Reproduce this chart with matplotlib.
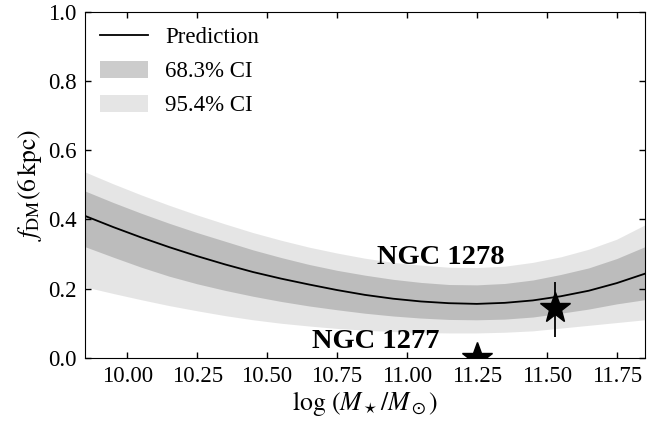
import numpy as np
import matplotlib
matplotlib.use("Agg")
import matplotlib.pyplot as plt

plt.rcParams['font.family'] = ['Liberation Serif', 'DejaVu Serif']
plt.rcParams['mathtext.fontset'] = 'stix'

# predicted dark-matter fraction vs stellar mass, with credible bands
log_mstar = [9.85, 9.95, 10.05, 10.15, 10.25, 10.35, 10.45, 10.55, 10.65, 10.75, 10.85,
             10.95, 11.05, 11.15, 11.25, 11.35, 11.45, 11.55, 11.65, 11.75, 11.85]
f_pred = [0.410, 0.378, 0.348, 0.320, 0.294, 0.270, 0.248, 0.229, 0.212, 0.196, 0.182,
          0.171, 0.163, 0.158, 0.156, 0.159, 0.166, 0.178, 0.194, 0.216, 0.243]
f_hi68 = [0.482, 0.449, 0.418, 0.389, 0.362, 0.337, 0.312, 0.290, 0.270, 0.253, 0.239,
          0.227, 0.218, 0.212, 0.211, 0.215, 0.225, 0.241, 0.260, 0.287, 0.321]
f_lo68 = [0.321, 0.291, 0.262, 0.236, 0.214, 0.195, 0.178, 0.163, 0.150, 0.139, 0.129,
          0.121, 0.115, 0.111, 0.110, 0.112, 0.118, 0.129, 0.141, 0.156, 0.168]
f_hi95 = [0.537, 0.503, 0.471, 0.441, 0.413, 0.387, 0.362, 0.340, 0.320, 0.303, 0.288,
          0.276, 0.268, 0.262, 0.261, 0.265, 0.276, 0.292, 0.314, 0.343, 0.384]
f_lo95 = [0.205, 0.186, 0.168, 0.151, 0.136, 0.122, 0.110, 0.100, 0.092, 0.085, 0.080,
          0.076, 0.073, 0.072, 0.072, 0.074, 0.078, 0.086, 0.094, 0.102, 0.110]

# observed galaxies
gal_names = ['NGC 1278', 'NGC 1277']
gal_mstar = [11.53, 11.25]
gal_fdm = [0.145, 0.0]
gal_err_lo = [0.084, 0.0]
gal_err_hi = [0.075, 0.0]


def main():
    fig = plt.figure(figsize=(6.66, 4.23), dpi=100)
    ax = fig.add_axes([0.128, 0.154, 0.840, 0.818])

    ax.fill_between(log_mstar, f_lo95, f_hi95, color='0.5', alpha=0.2, lw=0, label='95.4% CI')
    ax.fill_between(log_mstar, f_lo68, f_hi68, color='0.5', alpha=0.4, lw=0, label='68.3% CI')
    ax.plot(log_mstar, f_pred, color='k', lw=1.3, label='Prediction')

    ax.errorbar(gal_mstar[0], gal_fdm[0], yerr=[[gal_err_lo[0]], [gal_err_hi[0]]],
                fmt='none', ecolor='k', elinewidth=1.3, capsize=0, zorder=5)
    ax.plot(gal_mstar, gal_fdm, ls='none', marker='*', ms=23, color='k',
            clip_on=True, zorder=6)

    ax.text(11.12, 0.29, gal_names[0], fontsize=20.5, fontweight='bold', ha='center', va='center')
    ax.text(10.89, 0.046, gal_names[1], fontsize=20.5, fontweight='bold', ha='center', va='center')

    ax.set_xlim(9.85, 11.85)
    ax.set_ylim(0.0, 1.0)
    ax.set_xticks([10.0, 10.25, 10.5, 10.75, 11.0, 11.25, 11.5, 11.75])
    ax.set_xticklabels(['10.00', '10.25', '10.50', '10.75', '11.00', '11.25', '11.50', '11.75'])
    ax.set_yticks([0.0, 0.2, 0.4, 0.6, 0.8, 1.0])
    ax.tick_params(direction='in', top=True, right=True, length=4, width=1,
                   labelsize=16.5, pad=6)
    ax.set_xlabel(r'$\log\,(M_\star/M_\odot)$', fontsize=18.5, labelpad=1)
    ax.set_ylabel(r'$f_{\rm DM}(6\,{\rm kpc})$', fontsize=18.5, labelpad=3)

    handles, labels = ax.get_legend_handles_labels()
    order = [2, 1, 0]
    ax.legend([handles[i] for i in order], [labels[i] for i in order],
              loc='upper left', frameon=False, fontsize=16.5,
              handlelength=2.1, handleheight=0.75, handletextpad=0.75,
              borderaxespad=0.25, labelspacing=0.55)

    fig.savefig('out.png', dpi=100)


if __name__ == "__main__":
    main()
